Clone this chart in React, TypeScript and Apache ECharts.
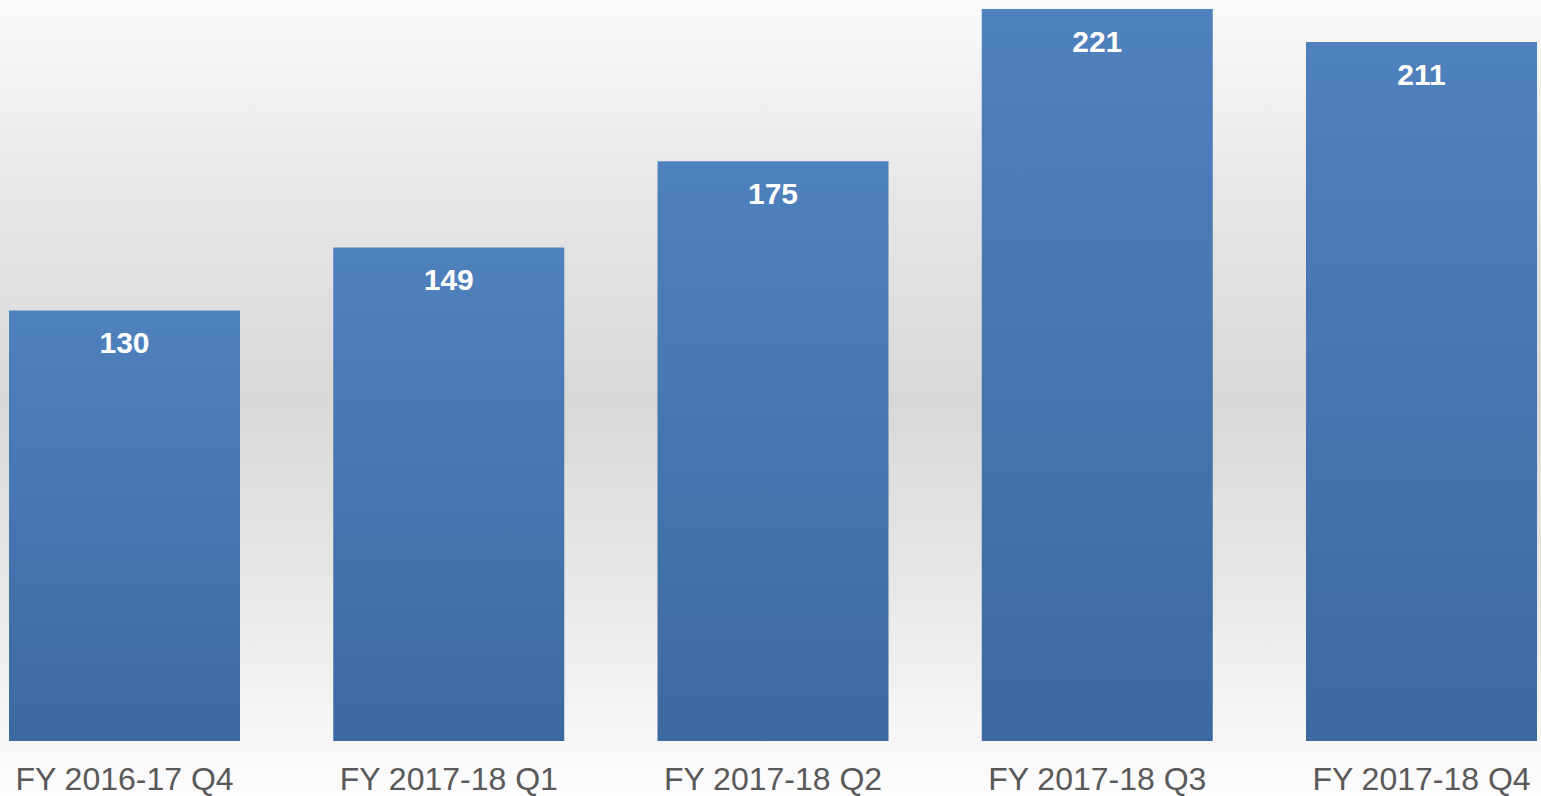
import React, { useEffect, useRef } from "react";
import * as echarts from "echarts";

const categories = ["FY 2016-17 Q4", "FY 2017-18 Q1", "FY 2017-18 Q2", "FY 2017-18 Q3", "FY 2017-18 Q4"];
const values = [130, 149, 175, 221, 211];

export default function App() {
  const ref = useRef<HTMLDivElement>(null);
  useEffect(() => {
    const chart = echarts.init(ref.current!, null, { renderer: "svg" });
    chart.setOption({
      animation: false,
      backgroundColor: new echarts.graphic.LinearGradient(0, 0, 0, 1, [
        { offset: 0, color: "#fafafa" },
        { offset: 0.25, color: "#e6e6e6" },
        { offset: 0.5, color: "#d8d8d8" },
        { offset: 0.75, color: "#e8e8e8" },
        { offset: 1, color: "#fdfdfd" },
      ]),
      grid: { left: 124.5, right: 119.5, top: 9, bottom: 55, containLabel: false },
      xAxis: {
        type: "category",
        data: categories,
        boundaryGap: false,
        axisLine: { show: false },
        axisTick: { show: false },
        splitLine: { show: false },
        axisLabel: {
          color: "#595959",
          fontSize: 32,
          fontFamily: "Liberation Sans, Arial, sans-serif",
          margin: 22,
          interval: 0,
        },
      },
      yAxis: {
        type: "value",
        min: 0,
        max: 221,
        show: false,
        splitLine: { show: false },
      },
      series: [
        {
          type: "bar",
          data: values,
          barWidth: 231,
          itemStyle: {
            color: new echarts.graphic.LinearGradient(0, 0, 0, 1, [
              { offset: 0, color: "#4f81bd" },
              { offset: 1, color: "#3d69a1" },
            ]),
          },
          label: {
            show: true,
            position: "insideTop",
            distance: 17,
            color: "#ffffff",
            fontWeight: "bold",
            fontSize: 30,
            fontFamily: "Liberation Sans, Arial, sans-serif",
          },
        },
      ],
    });
    return () => chart.dispose();
  }, []);
  return (
    <div
      ref={ref}
      style={{ position: "fixed", left: 0, top: 0, width: 1541, height: 796 }}
    />
  );
}
